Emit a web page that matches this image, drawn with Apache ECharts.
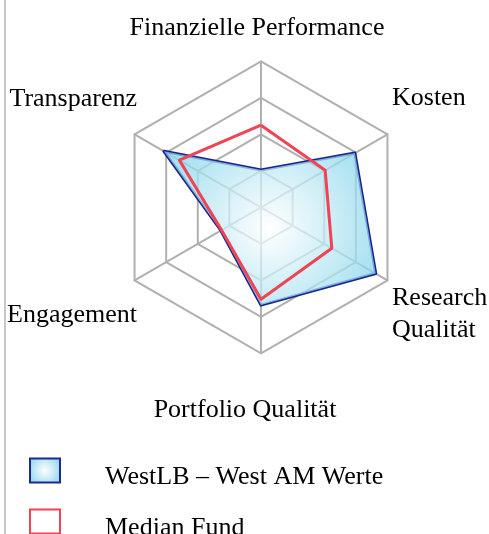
<!DOCTYPE html>
<html>
<head>
<meta charset="utf-8">
<script src="https://cdn.jsdelivr.net/npm/echarts@6/dist/echarts.min.js"></script>
<style>
html,body{margin:0;padding:0;background:#fff;}
#chart{width:489px;height:534px;}
</style>
</head>
<body>
<div id="chart"></div>
<script>
// Indicators in ECharts order (counter-clockwise from top)
const categories = ['Finanzielle Performance', 'Transparenz', 'Engagement', 'Portfolio Qualität', 'Research\nQualität', 'Kosten'];
const axisMax = 4;
const westLBValues = [1.02, 3.07, 1.27, 2.68, 3.63, 2.97];
const medianValues = [2.25, 2.58, 1.25, 2.52, 2.24, 2.03];
const seriesNames = ['WestLB – West AM Werte', 'Median Fund'];

const FONT = '"Liberation Serif", "Times New Roman", serif';
const chart = echarts.init(document.getElementById('chart'));

// label placements for the indicator names
const labelPos = [
  {x: 257, y: 28.5, align: 'center'},
  {x: 137, y: 99.5, align: 'right'},
  {x: 137, y: 315, align: 'right'},
  {x: 245, y: 410.5, align: 'center'},
  {x: 392, y: 314.5, align: 'left'},
  {x: 392, y: 98, align: 'left'}
];

const graphics = [
  {type: 'line', shape: {x1: 5, y1: 0, x2: 5, y2: 534}, style: {stroke: '#c8c8c8', lineWidth: 2}, silent: true}
];
categories.forEach(function (name, i) {
  const p = labelPos[i];
  graphics.push({
    type: 'text', x: p.x, y: p.y,
    style: {text: name, fill: '#000', font: '26px ' + FONT, align: p.align, verticalAlign: 'middle', lineHeight: 32}
  });
});

const blueFill = {
  type: 'radial', x: 0.5, y: 0.5, r: 0.7,
  colorStops: [{offset: 0, color: '#ffffff'}, {offset: 1, color: '#8fd8ec'}]
};
const legendFill = {
  type: 'radial', x: 0.5, y: 0.5, r: 0.6,
  colorStops: [{offset: 0, color: '#ffffff'}, {offset: 1, color: '#9fdcef'}]
};

function makeLegend(item, top) {
  return {
    orient: 'vertical',
    left: 29, top: top,
    padding: 0,
    itemWidth: 30, itemHeight: 24,
    icon: 'rect',
    formatter: function (name) { return '\n' + name; },
    textStyle: {fontFamily: FONT, fontSize: 26, color: '#000', padding: [0, 0, 0, 40], lineHeight: 13},
    data: [item],
    selectedMode: false
  };
}

chart.setOption({
  animation: false,
  backgroundColor: '#fff',
  graphic: graphics,
  legend: [
    makeLegend({name: seriesNames[0], itemStyle: {color: legendFill, borderColor: '#1a2a90', borderWidth: 2}}, 451),
    makeLegend({name: seriesNames[1], itemStyle: {color: '#ffffff', borderColor: '#ee4455', borderWidth: 2}}, 502)
  ],
  radar: {
    center: [261, 207.3],
    radius: 146,
    startAngle: 90,
    splitNumber: 4,
    shape: 'polygon',
    indicator: categories.map(function (n) { return {name: n, min: 0, max: axisMax}; }),
    axisName: {show: false},
    axisLine: {lineStyle: {color: '#b0b0b0', width: 2}},
    splitLine: {lineStyle: {color: '#b0b0b0', width: 2}},
    splitArea: {show: false}
  },
  series: [
    {
      type: 'radar',
      name: seriesNames[0],
      symbol: 'none',
      data: [{
        name: seriesNames[0],
        value: westLBValues,
        lineStyle: {color: '#18238c', width: 3},
        areaStyle: {color: blueFill, opacity: 0.75},
        itemStyle: {color: '#18238c'}
      }]
    },
    {
      type: 'radar',
      name: seriesNames[1],
      symbol: 'none',
      data: [{
        name: seriesNames[1],
        value: medianValues,
        lineStyle: {color: '#ee4455', width: 3},
        itemStyle: {color: '#ee4455'}
      }]
    }
  ]
});
</script>
</body>
</html>
